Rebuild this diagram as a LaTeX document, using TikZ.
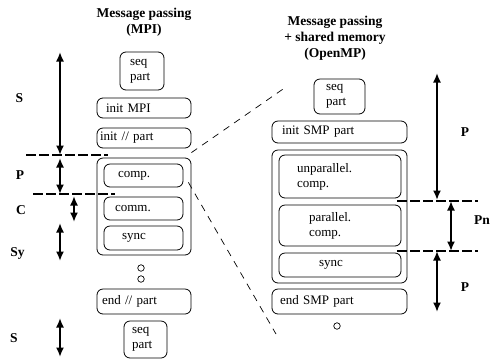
\documentclass[tikz,border=0pt]{standalone}
\usepackage{fontspec}
\setmainfont{Liberation Serif}
\usetikzlibrary{arrows.meta}
\begin{document}
\begin{tikzpicture}[x=1pt,y=-1pt,
  font=\fontsize{13}{15}\selectfont,
  box/.style = {draw,rounded corners=6pt,line width=0.8pt,align=left,inner ysep=0pt},
  head/.style = {font=\fontsize{13.5}{16}\selectfont\bfseries,align=center},
  lbl/.style = {font=\fontsize{13.5}{16}\selectfont\bfseries},
  dot/.style = {circle,draw,line width=0.7pt,minimum size=6.5pt,inner sep=0pt},
  dimarrow/.style = {line width=1.8pt,{Latex[length=9.5pt,width=8pt]}-{Latex[length=9.5pt,width=8pt]}},
  cut/.style = {line width=1.7pt,dash pattern=on 10pt off 3pt},
  zoomline/.style = {line width=0.7pt,dash pattern=on 7pt off 6pt}]
  \useasboundingbox (0,0) rectangle (490,360);

  % message passing only
  \node[head] (headMPI) at (144,22) {Message passing\\(MPI)};
  \node[box,text width=24pt,inner xsep=10pt,minimum height=38pt] (seqA) at (142,71) {seq\\part};
  \node[box,text width=76pt,inner xsep=9pt,minimum height=20pt] (initMPI) at (144,108) {init MPI};
  \node[box,text width=88pt,inner xsep=3pt,minimum height=20pt] (initPar) at (144,138) {init // part};
  \node[box,minimum width=94pt,minimum height=97pt] (loopA) at (144,206.5) {};
  \node[box,text width=51pt,inner xsep=14pt,minimum height=23pt] (compA) at (143.5,175.5) {comp.};
  \node[box,text width=57pt,inner xsep=11pt,minimum height=23pt] (commA) at (143.5,208.5) {comm.};
  \node[box,text width=43pt,inner xsep=18pt,minimum height=24pt] (syncA) at (143.5,238) {sync};
  \node[dot] (dotA1) at (141,268) {};
  \node[dot] (dotA2) at (141,279) {};
  \node[box,text width=84pt,inner xsep=5pt,minimum height=25pt] (endPar) at (144,301.5) {end // part};
  \node[box,text width=27pt,inner xsep=8pt,minimum height=37pt] (seqB) at (145.5,339.5) {seq\\part};

  \draw[cut] (26,155) -- (108,155);
  \draw[cut] (33,194) -- (115,194);
  \draw[dimarrow] (60,52) -- (60,155);
  \draw[dimarrow] (60,158) -- (60,194);
  \draw[dimarrow] (74,196) -- (74,222);
  \draw[dimarrow] (60,223) -- (60,261);
  \draw[dimarrow] (60,318) -- (60,357);
  \node[lbl] (lblS1) at (19.5,98) {S};
  \node[lbl] (lblP1) at (20,175) {P};
  \node[lbl] (lblC) at (21,210) {C};
  \node[lbl] (lblSy) at (17.5,253) {Sy};
  \node[lbl] (lblS2) at (14,338) {S};

  % message passing + shared memory
  \node[head] (headSMP) at (335,38) {Message passing\\+ shared memory\\(OpenMP)};
  \node[box,text width=27pt,inner xsep=12pt,minimum height=35pt] (seqC) at (339.5,96.5) {seq\\part};
  \node[box,text width=115pt,inner xsep=10pt,minimum height=22pt] (initSMP) at (339.5,132) {init SMP part};
  \node[box,minimum width=135pt,minimum height=133pt] (loopB) at (339.5,216.5) {};
  \node[box,text width=86pt,inner xsep=18pt,minimum height=43pt] (unpar) at (340,176.5) {unparallel.\\comp.};
  \node[box,text width=62pt,inner xsep=30pt,minimum height=41pt] (par) at (340,225.5) {parallel.\\comp.};
  \node[box,text width=42pt,inner xsep=40pt,minimum height=24pt] (syncB) at (340,265) {sync};
  \node[box,text width=119pt,inner xsep=8pt,minimum height=25pt] (endSMP) at (339.5,301.5) {end SMP part};
  \node[dot] (dotB) at (337,326) {};

  \draw[cut] (397,201) -- (478,201);
  \draw[cut] (397,251) -- (478,251);
  \draw[dimarrow] (437,73) -- (437,200);
  \draw[dimarrow] (451,201) -- (451,251);
  \draw[dimarrow] (437,251) -- (437,312);
  \node[lbl] (lblP2) at (465,132) {P};
  \node[lbl] (lblPn) at (482,220) {Pn};
  \node[lbl] (lblP3) at (465,287) {P};

  % zoom lines
  \coordinate (zoomTop) at (286,87);
  \coordinate (zoomBot) at (276,334);
  \draw[zoomline] ([yshift=5pt]loopA.north east) -- (zoomTop);
  \draw[zoomline] ([xshift=-3pt,yshift=5pt]loopA.east |- compA.south) -- (zoomBot);
\end{tikzpicture}
\end{document}
